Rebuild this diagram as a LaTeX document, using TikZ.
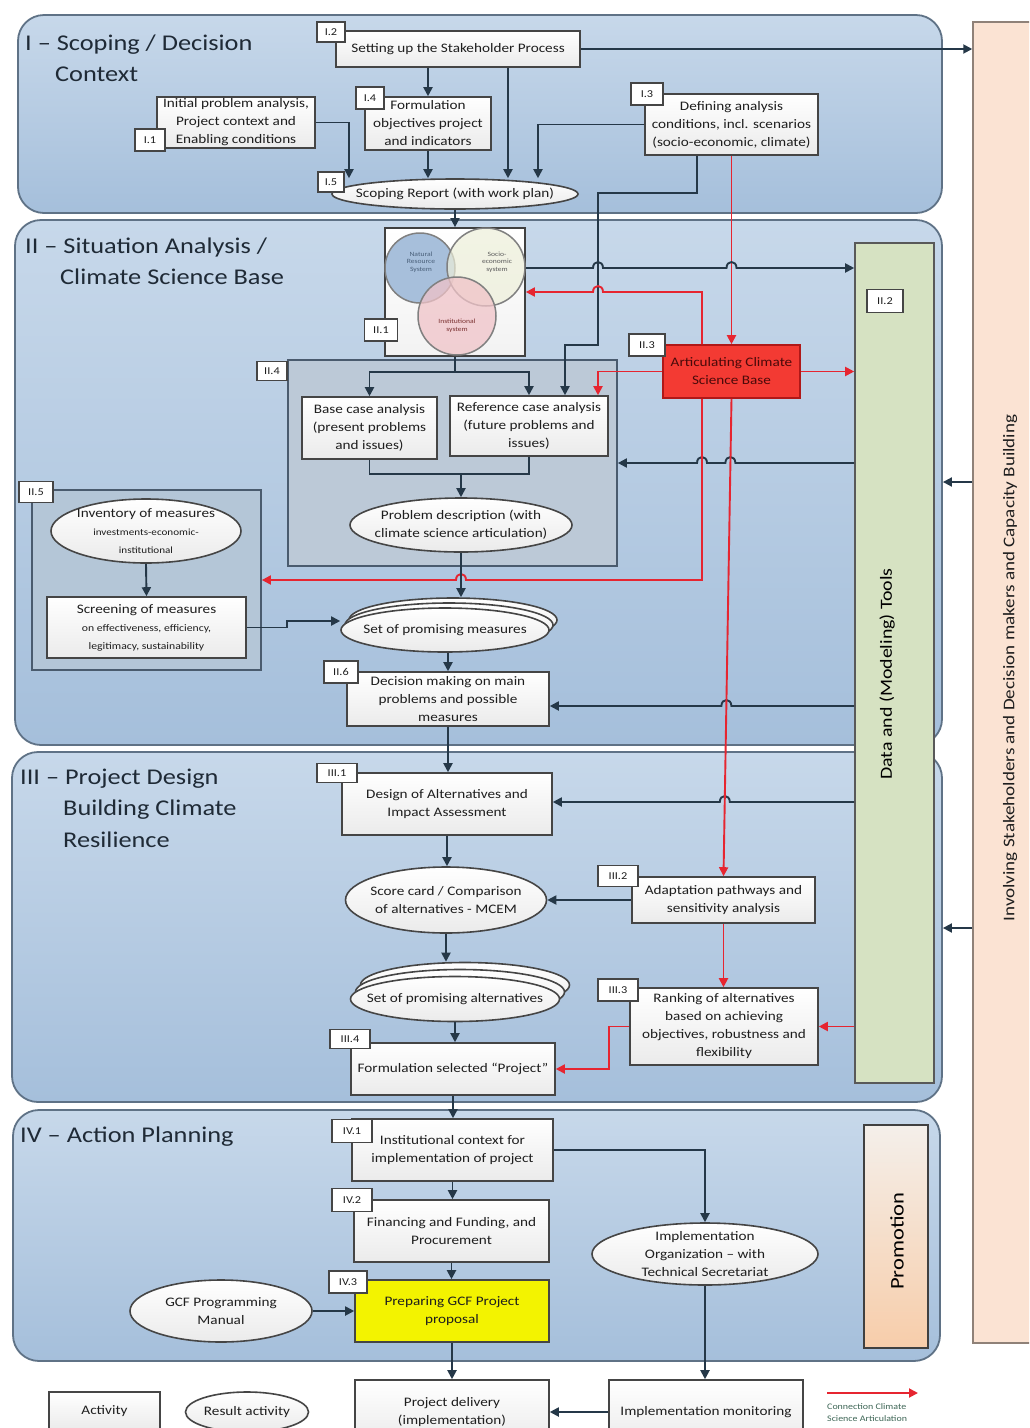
\documentclass[tikz,border=0pt]{standalone}
\usepackage{fontspec}
\setmainfont{Carlito}[FakeStretch=1.17]
\usetikzlibrary{shapes.geometric,arrows.meta}
\definecolor{secTop}{HTML}{C7D8EA}
\definecolor{secBot}{HTML}{A5BFDB}
\definecolor{secLine}{HTML}{5F7286}
\definecolor{ink}{HTML}{253848}
\definecolor{txt}{HTML}{1E1E1E}
\definecolor{redc}{HTML}{E62530}
\definecolor{grpFill}{HTML}{BCC9D7}
\definecolor{grpFillB}{HTML}{B4C6D7}
\definecolor{grpLine}{HTML}{4A5B6E}
\definecolor{toolsFill}{HTML}{D6E2C2}
\definecolor{orangeFill}{HTML}{FBE3D3}
\definecolor{orangeLine}{HTML}{8F8178}
\definecolor{artFill}{HTML}{F33A33}
\definecolor{artLine}{HTML}{B01818}
\definecolor{artTxt}{HTML}{4A0A0A}
\definecolor{yel}{HTML}{F3F300}
\definecolor{boxLine}{HTML}{454545}
\definecolor{natC}{HTML}{A7BFDB}
\definecolor{socC}{HTML}{EDEFD9}
\definecolor{insC}{HTML}{F0C3C8}
\definecolor{natT}{HTML}{4A607A}
\definecolor{socT}{HTML}{5A5A5A}
\definecolor{insT}{HTML}{7A3030}
\definecolor{promoTop}{HTML}{F4EFEA}
\definecolor{promoBot}{HTML}{F7CDAA}
\definecolor{legTxt}{HTML}{3E6656}
\definecolor{titleC}{HTML}{1F2A36}

\begin{document}
\begin{tikzpicture}[x=1pt,y=-1pt,
  every node/.style={text=txt},
  sec/.style={draw=secLine,line width=1.8pt,rounded corners=26pt,top color=secTop,bottom color=secBot,inner sep=0pt},
  grp/.style={draw=grpLine,line width=1.7pt,fill=grpFill,inner sep=0pt},
  box/.style={draw=boxLine,line width=1.6pt,top color=white,bottom color=black!8,align=center,inner xsep=1pt,inner ysep=1pt,font=\fontsize{13}{18}\selectfont},
  ell/.style={ellipse,draw=boxLine,line width=1.6pt,top color=white,bottom color=black!8,align=center,inner xsep=-30pt,inner ysep=-12pt,font=\fontsize{13}{18}\selectfont},
  lbl/.style={draw=boxLine,line width=1.5pt,fill=white,inner sep=0pt,font=\fontsize{10.5}{12}\selectfont},
  title/.style={anchor=base west,inner sep=0pt,font=\fontsize{22.5}{31}\selectfont,text=titleC},
  vt/.style={align=center,inner sep=0pt,font=\fontsize{6.5}{7.5}\selectfont},
  vcirc/.style={circle,draw=black!50,line width=1.5pt,inner sep=0pt},
  arr/.style={draw=ink,line width=1.9pt,-{Triangle[length=9pt,width=9pt]}},
  ln/.style={draw=ink,line width=1.9pt},
  redarr/.style={draw=redc,line width=1.9pt,-{Triangle[length=9pt,width=9pt]}},
  hbr/.style 2 args={insert path={-- (#1-5,#2) .. controls (#1-5,#2-8) and (#1+5,#2-8) .. (#1+5,#2)}},
  hbl/.style 2 args={insert path={-- (#1+5,#2) .. controls (#1+5,#2-8) and (#1-5,#2-8) .. (#1-5,#2)}},
]
\useasboundingbox (0,0) rectangle (1029,1428);
\clip (0,0) rectangle (1029,1428);
\fill[white] (0,0) rectangle (1029,1428);

% ---------- sections and side bars ----------
\node[sec,minimum width=924pt,minimum height=198pt] (s1) at (480,114) {};
\node[sec,minimum width=927pt,minimum height=525pt] (s2) at (478.5,482.5) {};
\node[sec,minimum width=930pt,minimum height=350pt] (s3) at (477,927) {};
\node[sec,minimum width=927pt,minimum height=251pt] (s4) at (476.5,1235.5) {};
\node[draw=orangeLine,line width=1.5pt,fill=orangeFill,minimum width=67pt,minimum height=1321pt,inner sep=0pt] (orange) at (1006.5,682.5) {};
\node[rotate=90,inner sep=0pt,font=\fontsize{16.3}{20}\selectfont] (orangetxt) at (1010,668) {Involving Stakeholders and Decision makers and Capacity Building};
\node[draw=black!65,line width=1.6pt,fill=toolsFill,minimum width=79pt,minimum height=840pt,inner sep=0pt] (tools) at (894.5,663) {};
\node[rotate=90,inner sep=0pt,font=\fontsize{17}{20}\selectfont,text=black] (toolstxt) at (887,674) {Data and (Modeling) Tools};
\node[draw=black!75,line width=1.8pt,top color=promoTop,bottom color=promoBot,minimum width=64pt,minimum height=223pt,inner sep=0pt] (promo) at (896,1236.5) {};
\node[rotate=90,inner sep=0pt,font=\fontsize{19.3}{22}\selectfont,text=black] (promotxt) at (897,1241) {Promotion};

% ---------- titles ----------
\node[title] (t1a) at (25,50) {I – Scoping / Decision};
\node[title] (t1b) at (55,81) {Context};
\node[title] (t2a) at (25,253) {II – Situation Analysis /};
\node[title] (t2b) at (60,284) {Climate Science Base};
\node[title] (t3a) at (20,784) {III – Project Design};
\node[title] (t3b) at (63,815) {Building Climate};
\node[title] (t3c) at (63,847) {Resilience};
\node[title] (t4a) at (20,1142) {IV – Action Planning};

% ---------- group boxes ----------
\node[grp,minimum width=329pt,minimum height=206pt] (ii4) at (452.5,463) {};
\node[grp,fill=grpFillB,minimum width=229pt,minimum height=180pt] (ii5) at (146.5,580) {};
\node[draw=black!75,line width=1.7pt,top color=white,bottom color=black!5,minimum width=140pt,minimum height=128pt,inner sep=0pt] (venn) at (455,292) {};
\node[vcirc,fill=natC,minimum size=70pt] (nat) at (420,268) {};
\node[vcirc,fill=socC,fill opacity=0.7,minimum size=78pt] (soc) at (486,267) {};
\node[vcirc,fill=insC,fill opacity=0.75,minimum size=78pt] (ins) at (457,316) {};
\node[vt,text=natT] (natTx) at (421,262) {Natural\\Resource\\System};
\node[vt,text=socT] (socTx) at (497,262) {Socio-\\economic\\system};
\node[vt,text=insT] (insTx) at (457,326) {Institutional\\system};

% ---------- section I nodes ----------
\node[box,minimum width=244pt,minimum height=36pt] (i2) at (458,49) {Setting up the Stakeholder Process};
\node[box,minimum width=158pt,minimum height=51pt] (i1) at (236,122.5) {Initial problem analysis,\\Project context and\\Enabling conditions};
\node[box,minimum width=126pt,minimum height=53pt] (i4) at (428,123.5) {Formulation\\objectives project\\and indicators};
\node[box,minimum width=173pt,minimum height=61pt] (i3) at (731.5,124.5) {Defining analysis\\conditions, incl. scenarios\\(socio-economic, climate)};
\node[ell,minimum width=246pt,minimum height=30pt] (i5) at (455,194) {Scoping Report (with work plan)};

% ---------- section II nodes ----------
\node[box,minimum width=135pt,minimum height=62pt] (base) at (369.5,428) {Base case analysis\\(present problems\\and issues)};
\node[box,minimum width=158pt,minimum height=60pt] (ref) at (529,426) {Reference case analysis\\(future problems and\\issues)};
\node[ell,minimum width=222pt,minimum height=54pt] (prob) at (461,525) {Problem description (with\\climate science articulation)};
\node[box,draw=artLine,top color=artFill,bottom color=artFill,text=artTxt,minimum width=137pt,minimum height=53pt] (art) at (731.5,371.5) {Articulating Climate\\Science Base};
\node[ell,minimum width=190pt,minimum height=64pt] (inv) at (146,531) {Inventory of measures\\{\fontsize{9.5}{12}\selectfont investments-economic-}\\{\fontsize{9.5}{12}\selectfont institutional}};
\node[box,minimum width=199pt,minimum height=61pt] (scr) at (146.5,627.5) {Screening of measures\\{\fontsize{10}{12}\selectfont on effectiveness, efficiency,}\\{\fontsize{10}{12}\selectfont legitimacy, sustainability}};
\node[ell,minimum width=208pt,minimum height=44pt] (setmB2) at (453,620) {};
\node[ell,minimum width=208pt,minimum height=44pt] (setmB1) at (449,625) {};
\node[ell,minimum width=208pt,minimum height=44pt] (setm) at (445,630) {Set of promising measures};
\node[box,minimum width=202pt,minimum height=54pt] (dec) at (448,699) {Decision making on main\\problems and possible\\measures};

% ---------- section III nodes ----------
\node[box,minimum width=210pt,minimum height=62pt] (des) at (447,804) {Design of Alternatives and\\Impact Assessment};
\node[ell,minimum width=201pt,minimum height=66pt] (score) at (446,900) {Score card / Comparison\\of alternatives - MCEM};
\node[box,minimum width=183pt,minimum height=46pt] (adapt) at (723.5,900) {Adaptation pathways and\\sensitivity analysis};
\node[ell,minimum width=209pt,minimum height=45pt] (setaB2) at (465,985) {};
\node[ell,minimum width=209pt,minimum height=45pt] (setaB1) at (460,992) {};
\node[ell,minimum width=209pt,minimum height=45pt] (seta) at (455,999) {Set of promising alternatives};
\node[box,minimum width=188pt,minimum height=77pt] (rank) at (724,1026.5) {Ranking of alternatives\\based on achieving\\objectives, robustness and\\flexibility};
\node[box,minimum width=204pt,minimum height=52pt] (form) at (453,1069) {Formulation selected “Project”};

% ---------- section IV nodes ----------
\node[box,minimum width=201pt,minimum height=62pt] (iv1) at (452.5,1150) {Institutional context for\\implementation of project};
\node[box,minimum width=195pt,minimum height=62pt] (iv2) at (451.5,1231) {Financing and Funding, and\\Procurement};
\node[box,top color=yel,bottom color=yel,minimum width=194pt,minimum height=62pt] (iv3) at (452,1311) {Preparing GCF Project\\proposal};
\node[ell,minimum width=182pt,minimum height=62pt] (gcf) at (221,1311) {GCF Programming\\Manual};
\node[ell,minimum width=226pt,minimum height=62pt] (impl) at (705,1254) {Implementation\\Organization – with\\Technical Secretariat};
\node[box,minimum width=194pt,minimum height=64pt] (deliv) at (452,1412) {Project delivery\\(implementation)};
\node[box,minimum width=194pt,minimum height=64pt] (mon) at (706,1412) {Implementation monitoring};

% ---------- legend ----------
\node[box,minimum width=111pt,minimum height=38pt] (act) at (104.5,1411) {Activity};
\node[ell,minimum width=123pt,minimum height=40pt] (res) at (247,1412) {Result activity};
\coordinate (lg1) at (827,1393);
\coordinate (lg2) at (918,1393);
\draw[redarr] (lg1) -- (lg2);
\node[anchor=north west,inner sep=0pt,align=left,font=\fontsize{8.5}{12}\selectfont,text=legTxt] (legtxt) at (827,1403) {Connection Climate\\Science Articulation};

% ---------- number labels ----------
\node[lbl,minimum width=28pt,minimum height=20pt] (l12) at (331,32) {I.2};
\node[lbl,minimum width=30pt,minimum height=22pt] (l11) at (150,140) {I.1};
\node[lbl,minimum width=28pt,minimum height=22pt] (l14) at (370,98) {I.4};
\node[lbl,minimum width=32pt,minimum height=22pt] (l13) at (647,94) {I.3};
\node[lbl,minimum width=26pt,minimum height=20pt] (l15) at (331,182) {I.5};
\node[lbl,minimum width=33pt,minimum height=22pt] (l21) at (381,330) {II.1};
\node[lbl,minimum width=30pt,minimum height=19pt] (l24) at (272,371) {II.4};
\node[lbl,minimum width=36pt,minimum height=22pt] (l23) at (647,345) {II.3};
\node[lbl,minimum width=36pt,minimum height=23pt] (l22) at (885,301) {II.2};
\node[lbl,minimum width=34pt,minimum height=21pt] (l25) at (36,492) {II.5};
\node[lbl,minimum width=34pt,minimum height=22pt] (l26) at (341,672) {II.6};
\node[lbl,minimum width=40pt,minimum height=19pt] (l31) at (337,773) {III.1};
\node[lbl,minimum width=40pt,minimum height=21pt] (l32) at (618,876) {III.2};
\node[lbl,minimum width=40pt,minimum height=22pt] (l33) at (618,990) {III.3};
\node[lbl,minimum width=40pt,minimum height=19pt] (l34) at (350,1039) {III.4};
\node[lbl,minimum width=40pt,minimum height=23pt] (l41) at (352,1131) {IV.1};
\node[lbl,minimum width=40pt,minimum height=23pt] (l42) at (352,1200) {IV.2};
\node[lbl,minimum width=38pt,minimum height=22pt] (l43) at (348,1282) {IV.3};

% ---------- helper coordinates ----------
\coordinate (cA) at (508,0);
\coordinate (cB) at (349,0);
\coordinate (cC) at (538,0);
\coordinate (k1) at (697,0);
\coordinate (k2) at (598,193);
\coordinate (k3) at (565,345);
\coordinate (c702) at (702,0);
\coordinate (c598) at (598,0);
\coordinate (c609) at (609,0);
\coordinate (y268) at (0,268);
\coordinate (y292) at (0,292);
\coordinate (y463) at (0,463);
\coordinate (y580) at (0,580);
\coordinate (y706) at (0,706);
\coordinate (y802) at (0,802);
\coordinate (y482) at (0,482);
\coordinate (y928) at (0,928);
\coordinate (split) at (455,372);
\coordinate (merge) at (461,474);
\coordinate (c287) at (287,621);

% ---------- connectors: section I ----------
\draw[arr] (i2.east) -- (i2.east -| orange.west);
\draw[arr] (i4.north |- i2.south) -- (i4.north);
\draw[arr] (i2.south -| cA) -- (cA |- i5.north);
\draw[arr] (i1.east) -| (cB |- i5.north);
\draw[arr] (i4.south) -- (i4.south |- i5.north);
\draw[arr] (i3.west) -| (cC |- i5.north);
\draw[arr] (i3.south -| k1) |- (k2) -- (k2 |- k3) -| (k3 |- ref.north);
\draw[redarr] (i3.south -| art.north) -- (art.north);
\draw[arr] (i5.south) -- (i5.south |- venn.north);

% ---------- connectors: section II ----------
\draw[arr] (venn.east |- y268) [hbr={598}{268}] [hbr={731.5}{268}] -- (tools.west |- y268);
\draw[redarr] (art.north -| c702) -- (c702 |- y292) [hbl={598}{292}] -- (venn.east |- y292);
\draw[redarr] (art.west) -| (c598 |- ref.north);
\draw[redarr] (art.east) -- (art.east -| tools.west);
\draw[ln] (venn.south) -- (split);
\draw[arr] (split) -| (base.north);
\draw[arr] (split) -| (ref.north);
\draw[ln] (base.south) |- (merge);
\draw[ln] (ref.south) |- (merge);
\draw[arr] (merge) -- (merge |- prob.north);
\draw[arr] (tools.west |- y463) [hbl={730.4}{463}] [hbl={702}{463}] -- (ii4.east |- y463);
\draw[redarr] (art.south -| c702) -- (c702 |- y580) [hbl={461}{580}] -- (ii5.east |- y580);
\draw[arr] (prob.south) -- (prob.south |- setmB2.north);
\draw[arr] (inv.south) -- (scr.north);
\draw[arr] (scr.east) -| (c287) -- (c287 -| setm.west);
\draw[arr] (dec.north |- setm.south) -- (dec.north);
\draw[arr] (tools.west |- y706) [hbl={726.4}{706}] -- (dec.east |- y706);
\draw[arr] (dec.south) -- (dec.south |- des.north);

% ---------- connectors: section III ----------
\draw[arr] (tools.west |- y802) [hbl={724.8}{802}] -- (des.east |- y802);
\draw[arr] (des.south) -- (des.south |- score.north);
\draw[arr] (adapt.west) -- (adapt.west -| score.east);
\draw[redarr] (art.south) -- (adapt.north);
\draw[redarr] (adapt.south) -- (adapt.south |- rank.north);
\draw[arr] (score.south) -- (score.south |- setaB2.north);
\draw[arr] (seta.south) -- (seta.south |- form.north);
\draw[redarr] (tools.west |- rank.east) -- (rank.east);
\draw[redarr] (rank.west) -| (c609 |- form.east) -- (form.east);
\draw[arr] (form.south) -- (form.south |- iv1.north);

% ---------- connectors: section IV ----------
\draw[arr] (iv1.east) -| (impl.north);
\draw[arr] (iv1.south) -- (iv1.south |- iv2.north);
\draw[arr] (iv2.south) -- (iv2.south |- iv3.north);
\draw[arr] (gcf.east) -- (iv3.west);
\draw[arr] (iv3.south) -- (iv3.south |- deliv.north);
\draw[arr] (impl.south) -- (impl.south |- mon.north);
\draw[arr] (mon.west) -- (deliv.east);

% ---------- stakeholder involvement arrows ----------
\draw[arr] (orange.west |- y482) -- (s2.east |- y482);
\draw[arr] (orange.west |- y928) -- (s3.east |- y928);
\end{tikzpicture}
\end{document}
